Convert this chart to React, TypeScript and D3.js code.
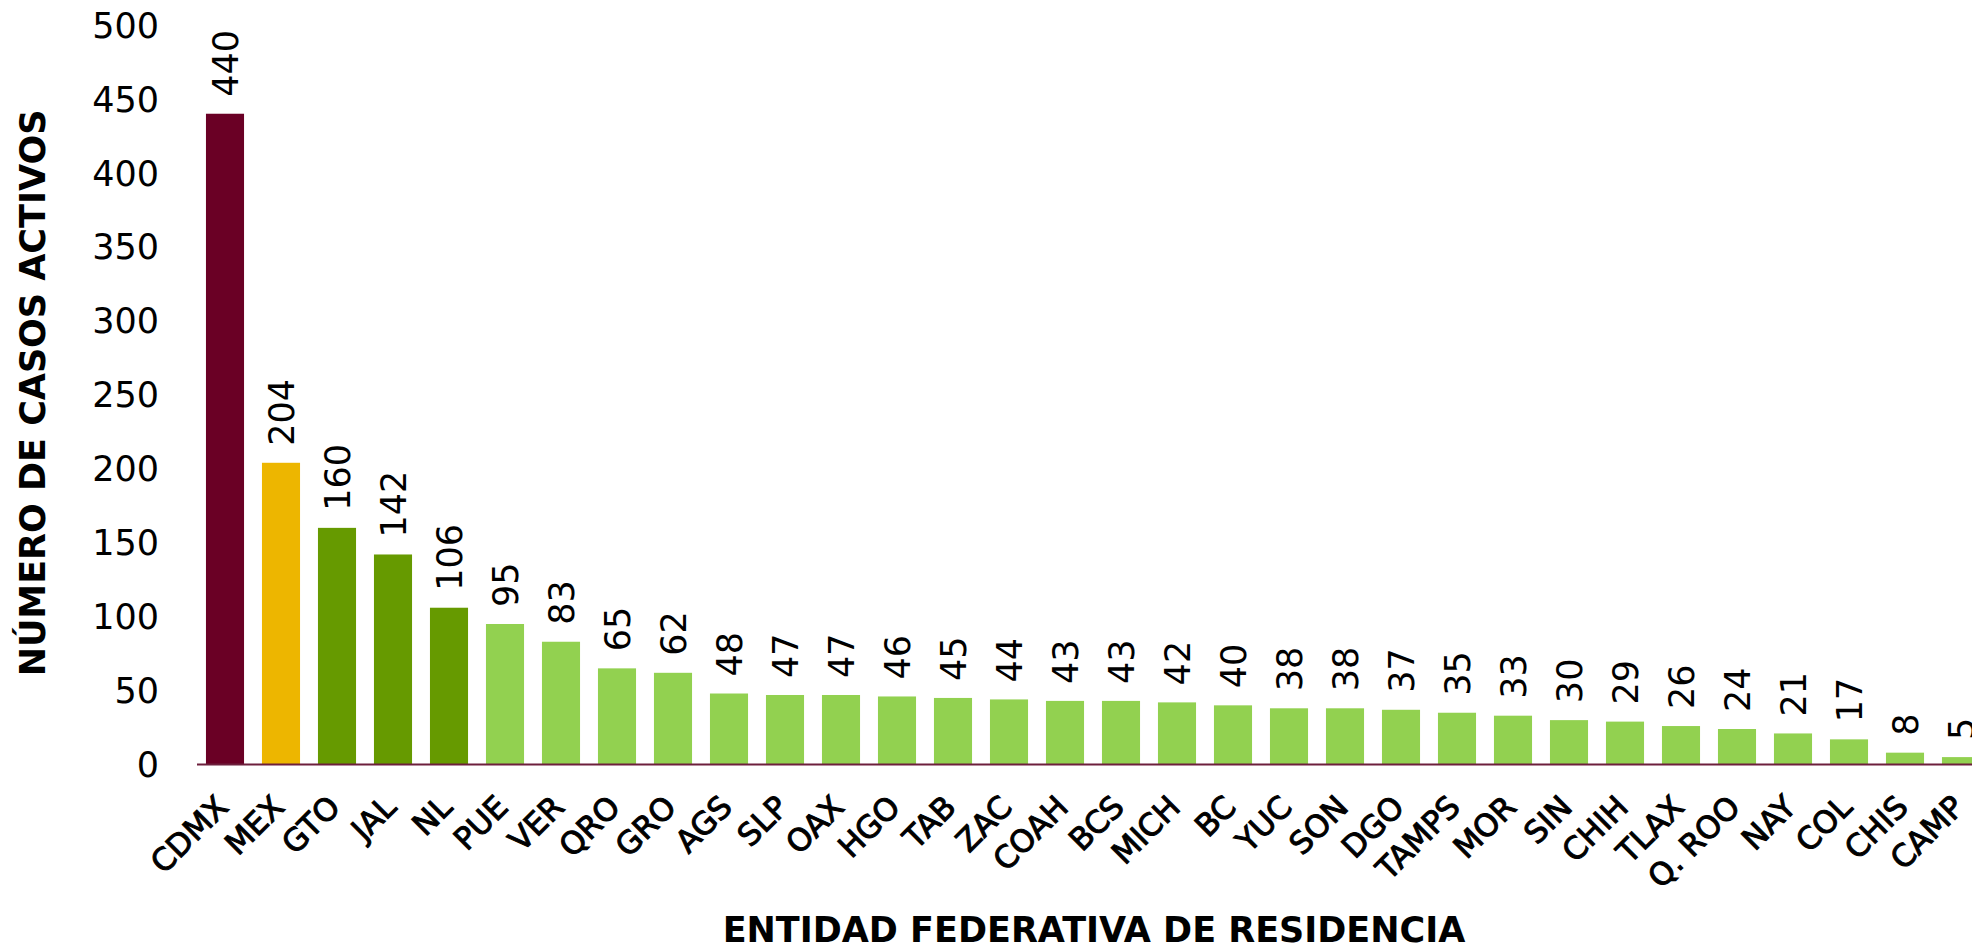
import React from "react";
import * as d3 from "d3";

const categories = ["CDMX","MEX","GTO","JAL","NL","PUE","VER","QRO","GRO","AGS","SLP","OAX","HGO","TAB","ZAC","COAH","BCS","MICH","BC","YUC","SON","DGO","TAMPS","MOR","SIN","CHIH","TLAX","Q. ROO","NAY","COL","CHIS","CAMP"];
const values = [440,204,160,142,106,95,83,65,62,48,47,47,46,45,44,43,43,42,40,38,38,37,35,33,30,29,26,24,21,17,8,5];
const groups = ["max","second","high","high","high","rest","rest","rest","rest","rest","rest","rest","rest","rest","rest","rest","rest","rest","rest","rest","rest","rest","rest","rest","rest","rest","rest","rest","rest","rest","rest","rest"];
const yTicks = [0,50,100,150,200,250,300,350,400,450,500];
const yTitle = "NÚMERO DE CASOS ACTIVOS";
const xTitle = "ENTIDAD FEDERATIVA DE RESIDENCIA";

const colorMap: Record<string,string> = { max: "#6a0025", second: "#edb600", high: "#669a00", rest: "#92d150" };

const W = 1972, H = 950;
const FONT = "'DejaVu Sans', sans-serif";

export default function App() {
  const x = d3.scaleBand<string>().domain(categories).range([197, 197 + 56 * categories.length]).paddingInner(0.32).paddingOuter(0.16);
  const y = d3.scaleLinear().domain([0, 500]).range([764.5, 25]);
  const bw = x.bandwidth();
  return (
    <svg width={W} height={H} style={{ position: "absolute", left: 0, top: 0, background: "#fff" }} fontFamily={FONT}>
      {yTicks.map(t => (
        <text key={t} x={159} y={y(t)} dy="0.36em" textAnchor="end" fontSize={35} fill="#000">{t}</text>
      ))}
      {categories.map((c, i) => {
        const bx = x(c)!;
        const top = y(values[i]);
        return (
          <g key={c}>
            <rect x={bx} y={top} width={bw} height={y(0) - top} fill={colorMap[groups[i]]} />
            <text transform={`translate(${bx + bw / 2},${top - 17}) rotate(-90)`} dy="0.36em" textAnchor="start" fontSize={35} fill="#000">{values[i]}</text>
            <text transform={`translate(${bx + bw / 2 - 3},801) rotate(-45)`} dy="0.36em" textAnchor="end" fontSize={31} fill="#000" stroke="#000" strokeWidth={1}>{c}</text>
          </g>
        );
      })}
      <line x1={197} x2={W} y1={y(0)} y2={y(0)} stroke="#6d1f3c" strokeWidth={2.2} />
      <text transform={`translate(32,393) rotate(-90)`} dy="0.36em" textAnchor="middle" fontSize={35} fontWeight="bold" fill="#000">{yTitle}</text>
      <text x={1094} y={929} dy="0.36em" textAnchor="middle" fontSize={35} fontWeight="bold" fill="#000">{xTitle}</text>
    </svg>
  );
}
